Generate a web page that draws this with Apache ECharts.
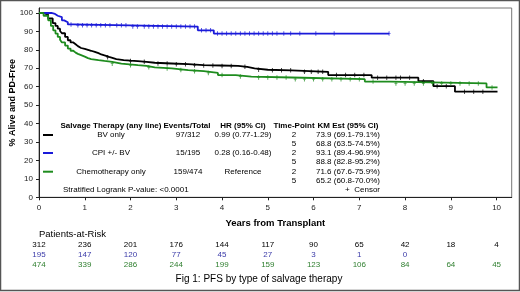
<!DOCTYPE html>
<html>
<head>
<meta charset="utf-8">
<script src="https://cdn.jsdelivr.net/npm/echarts@6/dist/echarts.min.js"></script>
<style>
  html, body { margin: 0; padding: 0; background: #fff; }
  #pfsChart { width: 520px; height: 292px; }
</style>
</head>
<body>
<div id="pfsChart"></div>
<script>
  // KM step curves: time (years) and % alive and PD-free
  const bvTimes = [0, 0.1, 0.2, 0.3, 0.36, 0.41, 0.46, 0.5, 0.57, 0.63, 0.69, 0.75, 0.8, 0.85, 0.92, 1.0, 1.07, 1.14, 1.22, 1.3, 1.36, 1.43, 1.5, 1.55, 1.62, 1.69, 1.85, 2.0, 2.16, 2.35, 2.53, 2.9, 3.26, 3.6, 3.98, 4.35, 4.55, 4.71, 5.0, 5.52, 6.32, 7.27, 8.29, 8.62, 9.09, 10.02];
  const bvVals  = [100, 99, 97, 94.5, 93, 91.5, 90.2, 89, 87, 85.2, 84, 83, 82, 81, 80.5, 80, 79.5, 78.9, 78.2, 77.5, 77, 76.5, 76, 75.5, 75, 74.4, 74.1, 73.9, 73.5, 73, 72.6, 72.2, 71.7, 71.5, 71.3, 70.8, 70, 69.2, 68.9, 68.1, 66.3, 64.9, 63.0, 60.3, 57.3, 57.3];
  const cpiTimes = [0, 0.27, 0.35, 0.41, 0.5, 0.55, 0.63, 0.75, 1.98, 3.47, 3.82, 7.65];
  const cpiVals  = [100, 99.5, 98.5, 97.8, 96, 95, 93.8, 93.3, 92.6, 90.6, 88.8, 88.8];
  const chemoTimes = [0, 0.1, 0.2, 0.26, 0.31, 0.36, 0.41, 0.46, 0.5, 0.57, 0.63, 0.69, 0.75, 0.8, 0.85, 0.92, 1.0, 1.07, 1.14, 1.3, 1.43, 1.6, 1.8, 2.16, 2.35, 2.53, 2.9, 3.26, 3.6, 3.91, 4.3, 4.64, 5.52, 7.12, 7.67, 9.78, 10.02];
  const chemoVals  = [100, 98.5, 96, 93, 90.6, 88.8, 87, 85.5, 84, 82.3, 80.7, 79.5, 78.5, 77.8, 77.1, 76.3, 75.5, 75, 74.4, 74, 73.5, 72.5, 71.7, 71.3, 70.5, 69.9, 69, 68.4, 67.5, 66.3, 65.5, 65.0, 64.1, 62.8, 61.8, 59.6, 59.6];

  // censor times (years)
  const bvCensor = [1.5, 2.0, 2.3, 2.6, 2.8, 3.0, 3.2, 3.4, 3.6, 3.8, 4.0, 4.2, 4.5, 4.8, 5.1, 5.3, 5.5, 5.8, 5.95, 6.1, 6.2, 6.5, 6.7, 6.9, 7.1, 7.4, 7.6, 7.8, 7.9, 8.1, 8.4, 8.7, 8.9, 9.3, 9.5, 9.7];
  const cpiCensor = [0.7, 0.85, 0.95, 1.05, 1.15, 1.25, 1.35, 1.45, 1.55, 1.7, 1.8, 1.9, 2.05, 2.15, 2.3, 2.4, 2.5, 2.6, 2.7, 2.8, 2.9, 3.0, 3.1, 3.2, 3.3, 3.4, 3.55, 3.65, 3.75, 3.9, 4.0, 4.1, 4.2, 4.3, 4.4, 4.5, 4.6, 4.7, 4.8, 4.9, 5.0, 5.1, 5.2, 5.35, 5.5, 5.7, 6.05, 6.45, 7.65];
  const chemoCensor = [1.6, 2.0, 2.4, 2.8, 3.1, 3.4, 3.7, 4.0, 4.4, 4.8, 5.0, 5.2, 5.4, 5.6, 5.8, 6.0, 6.2, 6.4, 6.6, 6.8, 7.0, 7.3, 7.8, 8.0, 8.2, 8.4, 8.6, 8.8, 9.0, 9.2, 9.4, 9.6, 9.9];

  const xTicks = [0, 1, 2, 3, 4, 5, 6, 7, 8, 9, 10];
  const yTicks = [0, 10, 20, 30, 40, 50, 60, 70, 80, 90, 100];

  // legend table
  const groupNames = ['BV only', 'CPI +/- BV', 'Chemotherapy only'];
  const eventsTotal = ['97/312', '15/195', '159/474'];
  const hrCI = ['0.99 (0.77-1.29)', '0.28 (0.16-0.48)', 'Reference'];
  const timePoints = ['2', '5'];
  const kmEst = [
    ['73.9 (69.1-79.1%)', '68.8 (63.5-74.5%)'],
    ['93.1 (89.4-96.9%)', '88.8 (82.8-95.2%)'],
    ['71.6 (67.6-75.9%)', '65.2 (60.8-70.0%)']
  ];
  const pValueText = 'Stratified Logrank P-value: <0.0001';

  // patients at risk at each year
  const riskBv = [312, 236, 201, 176, 144, 117, 90, 65, 42, 18, 4];
  const riskCpi = [195, 147, 120, 77, 45, 27, 3, 1, 0];
  const riskChemo = [474, 339, 286, 244, 199, 159, 123, 106, 84, 64, 45];

  const lineColors = ['#000000', '#1a1ad9', '#1e8c1e'];
  const riskColors = ['#000000', '#3a3aa8', '#2f7f2f'];
  const FONT = "'Liberation Sans', Arial, sans-serif";

  function toPairs(ts, vs){
    return ts.map((t, i) => [t, vs[i]]);
  }
  function kmAt(ts, vs, t){
    let v = vs[0];
    for (let i = 0; i < ts.length; i++){
      if (ts[i] <= t) v = vs[i];
    }
    return v;
  }
  function censorPairs(cs, ts, vs){
    return cs.map(t => [t, kmAt(ts, vs, t)]);
  }

  // small "+" censor mark, mostly vertical
  const plusSymbol = 'path://M-0.6,-3L0.6,-3L0.6,-0.5L2,-0.5L2,0.5L0.6,0.5L0.6,3L-0.6,3L-0.6,0.5L-2,0.5L-2,-0.5L-0.6,-0.5Z';

  const curves = [
    { name: 'BV only', t: bvTimes, v: bvVals, c: bvCensor },
    { name: 'CPI +/- BV', t: cpiTimes, v: cpiVals, c: cpiCensor },
    { name: 'Chemotherapy only', t: chemoTimes, v: chemoVals, c: chemoCensor }
  ];

  let series = [];
  curves.forEach((cv, i) => {
    series.push({
      name: cv.name,
      type: 'line',
      step: 'end',
      showSymbol: false,
      silent: true,
      data: toPairs(cv.t, cv.v),
      lineStyle: { color: lineColors[i], width: 1.8 },
      z: 3
    });
    series.push({
      name: cv.name + ' censor',
      type: 'scatter',
      symbol: plusSymbol,
      symbolSize: [3, 4.5],
      silent: true,
      data: censorPairs(cv.c, cv.t, cv.v),
      itemStyle: { color: lineColors[i] },
      z: 4
    });
  });

  const option = {
    animation: false,
    backgroundColor: '#fff',
    textStyle: { fontFamily: FONT },
    grid: {
      left: 39, right: 8.3, top: 8, bottom: 94.7,
      outerBoundsMode: 'none',
      containLabel: false,
      show: true, borderColor: '#777', borderWidth: 1
    },
    xAxis: {
      type: 'value', min: 0, max: 10.33,
      name: 'Years from Transplant',
      nameLocation: 'middle', nameGap: 21,
      nameMoveOverlap: false,
      nameTextStyle: { fontSize: 9.5, fontWeight: 'bold', color: '#000', fontFamily: FONT },
      axisLine: { lineStyle: { color: '#222', width: 1 } },
      axisTick: { show: true, length: 3, customValues: xTicks, lineStyle: { color: '#222' } },
      axisLabel: { customValues: xTicks, fontSize: 8, color: '#222', margin: 6, fontFamily: FONT },
      splitLine: { show: false }
    },
    yAxis: {
      type: 'value', min: 0, max: 102.7,
      name: '% Alive and PD-Free',
      nameLocation: 'middle', nameGap: 22,
      nameMoveOverlap: false,
      nameTextStyle: { fontSize: 9, fontWeight: 'bold', color: '#000', fontFamily: FONT },
      axisLine: { show: true, lineStyle: { color: '#222', width: 1 } },
      axisTick: { show: true, length: 3, customValues: yTicks, lineStyle: { color: '#222' } },
      axisLabel: { customValues: yTicks, fontSize: 8, color: '#222', margin: 6, fontFamily: FONT },
      splitLine: { show: false }
    },
    series: series
  };

  const myChart = echarts.init(document.getElementById('pfsChart'));
  myChart.setOption(option);

  // legend table + at-risk table as text
  let g = [];
  const txt = (x, y, s, opt) => ({
    type: 'text', x: x, y: y, silent: true,
    style: Object.assign({ text: s, fill: '#000', font: '8px ' + FONT, align: 'center', verticalAlign: 'middle' }, opt || {})
  });
  const bold8 = 'bold 8px ' + FONT;
  g.push(txt(111, 126, 'Salvage Therapy (any line)', { font: bold8 }));
  g.push(txt(187, 126, 'Events/Total', { font: bold8 }));
  g.push(txt(243, 126, 'HR (95% CI)', { font: bold8 }));
  g.push(txt(294, 126, 'Time-Point', { font: bold8 }));
  g.push(txt(348, 126, 'KM Est (95% CI)', { font: bold8 }));
  const rowY = [135, 153, 171.7];
  groupNames.forEach((nm, i) => {
    const y = rowY[i];
    g.push({ type: 'rect', silent: true, shape: { x: 43, y: y - 1, width: 10, height: 2 }, style: { fill: lineColors[i] } });
    g.push(txt(111, y, nm));
    g.push(txt(188, y, eventsTotal[i]));
    g.push(txt(243, y, hrCI[i]));
    timePoints.forEach((tp, k) => {
      g.push(txt(294, y + k * 9, tp));
      g.push(txt(380, y + k * 9, kmEst[i][k], { align: 'right' }));
    });
  });
  g.push(txt(380, 190, '+  Censor', { align: 'right' }));
  g.push(txt(63, 190, pValueText, { align: 'left' }));

  g.push(txt(39, 234.3, 'Patients-at-Risk', { align: 'left', font: '9.5px ' + FONT }));
  [riskBv, riskCpi, riskChemo].forEach((row, r) => {
    row.forEach((n, k) => {
      const px = myChart.convertToPixel({ xAxisIndex: 0 }, xTicks[k]);
      g.push(txt(px, 244.7 + r * 10.2, String(n), { fill: riskColors[r], font: '8px ' + FONT }));
    });
  });
  g.push(txt(259, 279, 'Fig 1: PFS by type of salvage therapy', { font: '10px ' + FONT }));
  g.push({ type: 'rect', silent: true, shape: { x: 0.5, y: 0.5, width: 519, height: 290 }, style: { fill: 'none', stroke: '#555', lineWidth: 1.5 } });

  myChart.setOption({ graphic: g });
</script>
</body>
</html>
